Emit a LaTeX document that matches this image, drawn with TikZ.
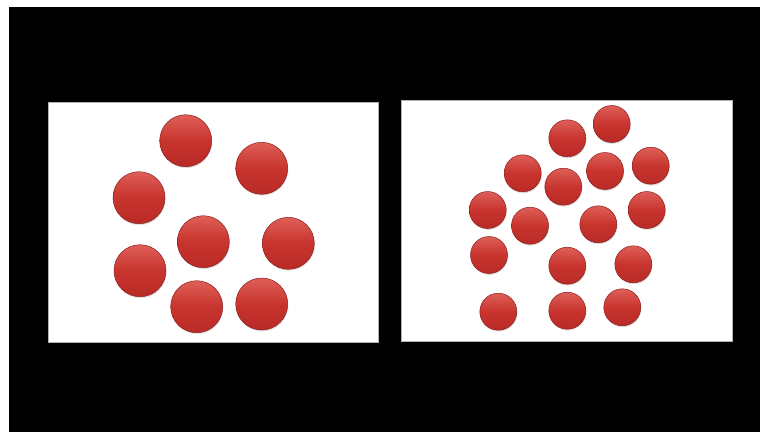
\documentclass[tikz,border=0pt]{standalone}
\usetikzlibrary{shadows}
\definecolor{ballmid}{RGB}{200,52,46}
\definecolor{balltop}{RGB}{222,95,88}
\definecolor{ballbot}{RGB}{185,42,38}
\definecolor{ballrim}{RGB}{140,30,28}
\tikzset{
  ball/.style={circle, inner sep=0pt, draw=ballrim, line width=0.5pt,
    top color=balltop, bottom color=ballbot, middle color=ballmid,
    drop shadow={opacity=0.25, shadow xshift=0.6pt, shadow yshift=-1.4pt}},
  bigball/.style={ball, minimum size=52pt},
  smallball/.style={ball, minimum size=37pt},
  panel/.style={fill=white, draw=gray!60, line width=0.8pt}
}
\begin{document}
\begin{tikzpicture}[x=1pt,y=-1pt]
\useasboundingbox (0,0) rectangle (760,432);
\fill[white] (0,0) rectangle (760,432);
\fill[black] (9,7) rectangle (760,432);
\draw[panel] (48,102) rectangle (378,342);
\draw[panel] (401,100) rectangle (732,341);
% left panel
\node[bigball] (l1) at (185.7,140.7) {};
\node[bigball] (l2) at (261.7,168.3) {};
\node[bigball] (l3) at (139,197.7) {};
\node[bigball] (l4) at (203.3,241.7) {};
\node[bigball] (l5) at (288.3,243.3) {};
\node[bigball] (l6) at (140,270.7) {};
\node[bigball] (l7) at (196.7,306.7) {};
\node[bigball] (l8) at (261.7,304) {};
% right panel
\node[smallball] (r1) at (611.7,124) {};
\node[smallball] (r2) at (567.3,138.3) {};
\node[smallball] (r3) at (522.7,173.3) {};
\node[smallball] (r4) at (605,171) {};
\node[smallball] (r5) at (650.7,165.7) {};
\node[smallball] (r6) at (563.3,186.7) {};
\node[smallball] (r7) at (487.7,210) {};
\node[smallball] (r8) at (530,225.7) {};
\node[smallball] (r9) at (598.3,224.3) {};
\node[smallball] (r10) at (646.7,210) {};
\node[smallball] (r11) at (489,255) {};
\node[smallball] (r12) at (567.3,265.7) {};
\node[smallball] (r13) at (633.3,264.3) {};
\node[smallball] (r14) at (498.3,311.7) {};
\node[smallball] (r15) at (567.3,310.7) {};
\node[smallball] (r16) at (622.3,307.3) {};
\end{tikzpicture}
\end{document}
